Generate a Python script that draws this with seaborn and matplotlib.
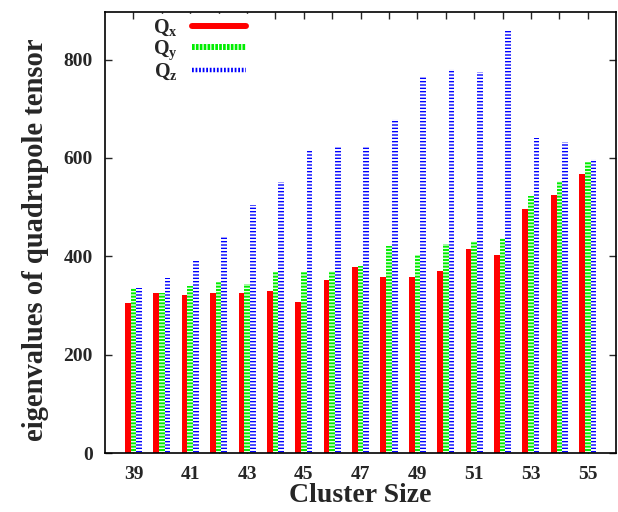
import matplotlib
matplotlib.use('Agg')
import matplotlib.pyplot as plt
from matplotlib.lines import Line2D
import seaborn as sns
import pandas as pd

# cluster sizes and the three eigenvalues of the quadrupole tensor
sizes = [39, 40, 41, 42, 43, 44, 45, 46, 47, 48, 49, 50, 51, 52, 53, 54, 55]
q_x = [305, 326, 322, 326, 326, 330, 307, 352, 379, 357, 358, 371, 414, 403, 496, 524, 567]
q_y = [335, 326, 340, 348, 344, 368, 368, 370, 381, 420, 403, 426, 432, 437, 522, 554, 591]
q_z = [335, 356, 391, 440, 505, 552, 614, 625, 623, 679, 766, 781, 774, 858, 640, 632, 597]

components = ['Qx', 'Qy', 'Qz']
colors = {'Qx': '#ff0000', 'Qy': '#00ee00', 'Qz': '#0000ff'}

df = pd.DataFrame({
    'size': sizes * 3,
    'comp': [c for c in components for _ in sizes],
    'value': q_x + q_y + q_z,
})

sns.set_style('ticks')
plt.rcParams['font.family'] = ['Liberation Serif', 'DejaVu Serif']
plt.rcParams['font.weight'] = 'bold'
plt.rcParams['mathtext.fontset'] = 'custom'
plt.rcParams['mathtext.rm'] = 'Liberation Serif:bold'
plt.rcParams['mathtext.it'] = 'Liberation Serif:bold'
plt.rcParams['mathtext.bf'] = 'Liberation Serif:bold'
plt.rcParams['hatch.linewidth'] = 1.0

fig = plt.figure(figsize=(6.18, 5.12), dpi=100)
ax = fig.add_axes([0.170, 0.115, 0.827, 0.862])

sns.barplot(data=df, x='size', y='value', hue='comp', order=sizes,
            hue_order=components, palette=colors, width=0.6, saturation=1,
            linewidth=0, legend=False, ax=ax)

# green: green with thin light gaps, blue: blue stripes on white
for patch in ax.containers[1]:
    patch.set_facecolor(colors['Qy'])
    patch.set_edgecolor('#e8ffe8')
    patch.set_hatch('-----')
    patch.set_linewidth(0)
for patch in ax.containers[2]:
    patch.set_facecolor('white')
    patch.set_edgecolor(colors['Qz'])
    patch.set_hatch('-----')
    patch.set_linewidth(0)

ax.set_xlim(-1, 17)
ax.set_ylim(0, 897)
ax.set_yticks([0, 200, 400, 600, 800])
ax.set_xticks(range(len(sizes)))
ax.set_xticklabels([str(s) if i % 2 == 0 else '' for i, s in enumerate(sizes)])

ax.tick_params(direction='in', top=True, right=True, length=5, width=1,
               labelsize=14, pad=9)
for side in ['left', 'right', 'top', 'bottom']:
    ax.spines[side].set_linewidth(1.2)
    ax.spines[side].set_color('black')
    ax.spines[side].set_zorder(6)

ax.set_xlabel('Cluster Size', fontsize=20, fontweight='bold', labelpad=0)
ax.set_ylabel('eigenvalues of quadrupole tensor', fontsize=20.6,
              fontweight='bold')
ax.yaxis.set_label_coords(-0.109, 0.483)

handles = [
    Line2D([], [], color=colors['Qx'], lw=4.3),
    Line2D([], [], color=colors['Qy'], lw=4.3, dashes=(0.45, 0.2)),
    Line2D([], [], color=colors['Qz'], lw=3.2, dashes=(0.4, 0.4)),
]
labels = [r'$Q_x$', r'$Q_y$', r'$Q_z$']
leg = ax.legend(handles, labels, loc='upper left', bbox_to_anchor=(0.066, 1.018),
                markerfirst=False, frameon=True, framealpha=1, edgecolor='white',
                fancybox=False, fontsize=14.5, handlelength=2.7, handletextpad=0.7,
                labelspacing=0.0, borderpad=0.2)

plt.savefig('out.png', dpi=100, facecolor='white')
